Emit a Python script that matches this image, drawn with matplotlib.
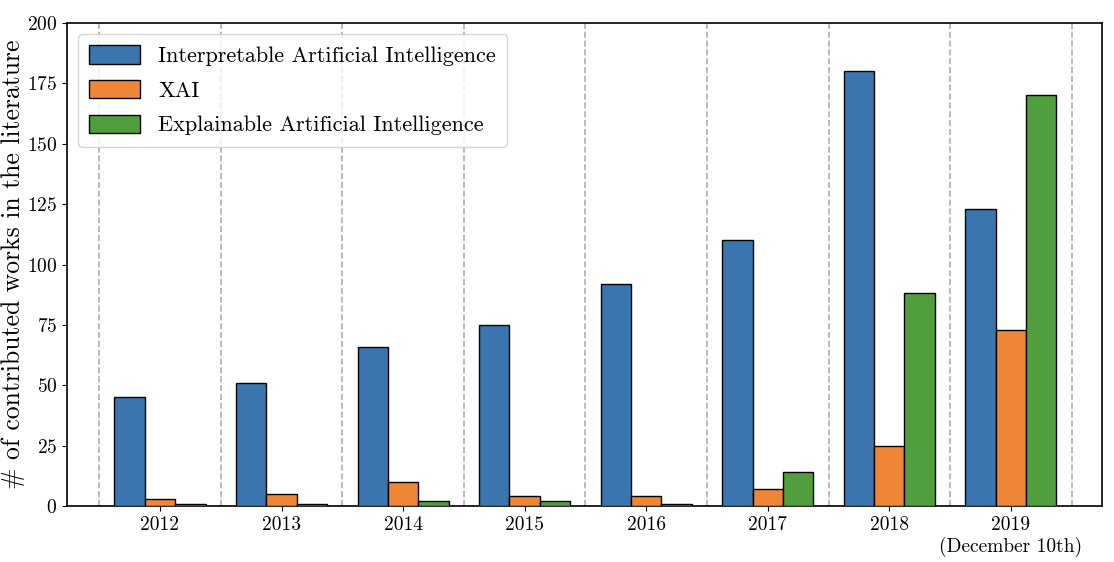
import numpy as np
import matplotlib
matplotlib.use("Agg")
import matplotlib.pyplot as plt

# --- Data ---
years = ["2012", "2013", "2014", "2015", "2016", "2017", "2018", "2019\n(December 10th)"]
interpretable_ai = [45, 51, 66, 75, 92, 110, 180, 123]
xai = [3, 5, 10, 4, 4, 7, 25, 73]
explainable_ai = [1, 1, 2, 2, 1, 14, 88, 170]

series_names = ["Interpretable Artificial Intelligence", "XAI", "Explainable Artificial Intelligence"]
colors = ["#3a75af", "#ef8636", "#519e3e"]

# --- Style (LaTeX-ish look with Computer Modern) ---
plt.rcParams["font.family"] = ["cmr10", "DejaVu Serif"]
plt.rcParams["mathtext.fontset"] = "cm"
plt.rcParams["axes.unicode_minus"] = False
plt.rcParams["axes.formatter.use_mathtext"] = True

fig = plt.figure(figsize=(11.14, 5.62), dpi=100)
ax = fig.add_axes([67 / 1114, 1 - 506 / 562, (1102 - 67) / 1114, (506 - 23) / 562])

x = np.arange(len(years))
width = 0.25
all_series = [interpretable_ai, xai, explainable_ai]
for i, (vals, name, c) in enumerate(zip(all_series, series_names, colors)):
    ax.bar(x + (i - 1) * width, vals, width, color=c, edgecolor="black",
           linewidth=1.0, label=name, zorder=3)

# dashed separators between years
for xi in np.arange(-0.5, len(years), 1.0):
    ax.axvline(xi, color="#b0b0b0", linestyle="--", linewidth=1.2, zorder=1)

ax.set_xlim(-0.765, 7.75)
ax.set_ylim(0, 200)
ax.set_yticks(np.arange(0, 201, 25))
ax.set_xticks(x)
ax.set_xticklabels(years, fontsize=14)
ax.tick_params(axis="y", labelsize=14)
ax.set_ylabel(r"# of contributed works in the literature", fontsize=18.5, labelpad=1)

for s in ax.spines.values():
    s.set_linewidth(1.2)

ax.legend(loc="upper left", fontsize=16, frameon=True, fancybox=True,
          framealpha=0.8, borderpad=0.5, handlelength=2.3, handleheight=0.9,
          labelspacing=0.62)

fig.savefig("out.png", dpi=100)
